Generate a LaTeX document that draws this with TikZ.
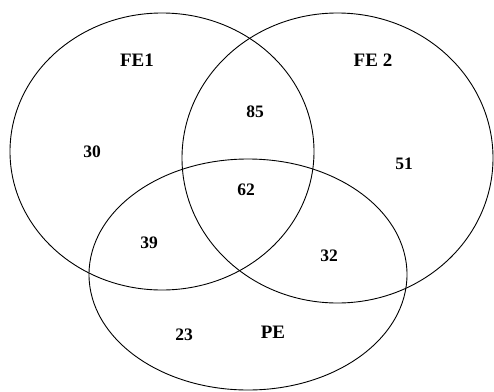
\documentclass[tikz,border=0pt]{standalone}
\usepackage{fontspec}
\setmainfont{Liberation Serif}
\begin{document}
\begin{tikzpicture}[x=1pt,y=-1pt,
  circ/.style={draw=black,line width=0.9pt},
  setlabel/.style={font=\bfseries\fontsize{19}{22}\selectfont,inner sep=0pt},
  count/.style={font=\bfseries\fontsize{17.5}{20}\selectfont,inner sep=0pt}]
\useasboundingbox[fill=white] (0,0) rectangle (494,391);
\draw[circ] (162,151.5) ellipse [x radius=152, y radius=138.5];
\draw[circ] (337.5,158) ellipse [x radius=155.5, y radius=145];
\draw[circ] (248,274.5) ellipse [x radius=159, y radius=115.5];
\node[setlabel] (fe1) at (137,60) {FE1};
\node[setlabel] (fe2) at (373,60) {FE 2};
\node[setlabel] (pe) at (273,332) {PE};
\node[count] (n30) at (92,152) {30};
\node[count] (n85) at (255,112) {85};
\node[count] (n51) at (404,164) {51};
\node[count] (n62) at (246,190) {62};
\node[count] (n39) at (149,243) {39};
\node[count] (n32) at (329,256) {32};
\node[count] (n23) at (184,335) {23};
\end{tikzpicture}
\end{document}
